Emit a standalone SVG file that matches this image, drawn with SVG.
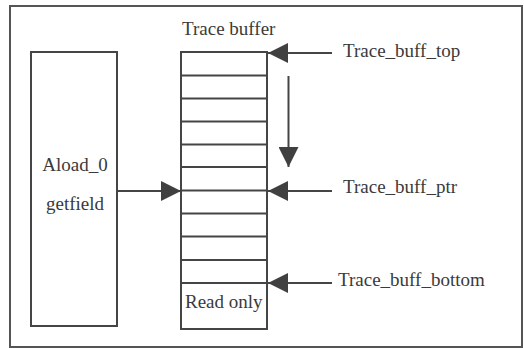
<svg xmlns="http://www.w3.org/2000/svg" width="524" height="349" viewBox="0 0 524 349">
  <style>
    .frame { fill: #ffffff; stroke: #555555; stroke-width: 2; }
    .box { fill: #ffffff; stroke: #454545; stroke-width: 2; }
    .cell { stroke: #454545; stroke-width: 2; fill: none; }
    .conn { stroke: #454545; stroke-width: 2; fill: none; }
    .lbl { font-family: "Liberation Serif", "Times New Roman", serif; font-size: 19px; fill: #3a3a3a; }
  </style>
  <defs>
    <marker id="head" viewBox="0 0 20 20" refX="20" refY="10" markerWidth="20" markerHeight="20" markerUnits="userSpaceOnUse" orient="auto">
      <path d="M0,0 L20,10 L0,20 Z" fill="#404040"/>
    </marker>
  </defs>

  <!-- outer frame -->
  <rect class="frame" x="10" y="6" width="512" height="341"/>

  <!-- instruction block -->
  <g id="instructions">
    <rect class="box" x="31" y="52" width="86" height="274"/>
    <text class="lbl" x="75" y="171" text-anchor="middle">Aload_0</text>
    <text class="lbl" x="75" y="210" text-anchor="middle">getfield</text>
  </g>

  <!-- trace buffer with ten slots and a read-only area -->
  <g id="trace-buffer">
    <text class="lbl" x="182" y="35">Trace buffer</text>
    <rect class="box" x="181" y="52" width="86" height="277"/>
    <path class="cell" d="M181,75.5H267 M181,98.5H267 M181,121.5H267 M181,144.5H267 M181,167H267 M181,190.5H267 M181,213.5H267 M181,236.5H267 M181,260H267 M181,283H267"/>
    <text class="lbl" x="185" y="308">Read only</text>
  </g>

  <!-- pointer labels -->
  <g id="label-top">
    <text class="lbl" x="343" y="57">Trace_buff_top</text>
  </g>
  <g id="label-ptr">
    <text class="lbl" x="343" y="193">Trace_buff_ptr</text>
  </g>
  <g id="label-bottom">
    <text class="lbl" x="338" y="286">Trace_buff_bottom</text>
  </g>

  <!-- connectors -->
  <g id="connectors">
    <line class="conn" x1="332" y1="53" x2="268" y2="53" marker-end="url(#head)"/>
    <line class="conn" x1="288.5" y1="76" x2="288.5" y2="167" marker-end="url(#head)"/>
    <line class="conn" x1="332" y1="191" x2="268" y2="191" marker-end="url(#head)"/>
    <line class="conn" x1="332" y1="283" x2="268" y2="283" marker-end="url(#head)"/>
    <line class="conn" x1="117" y1="191" x2="181" y2="191" marker-end="url(#head)"/>
  </g>
</svg>
